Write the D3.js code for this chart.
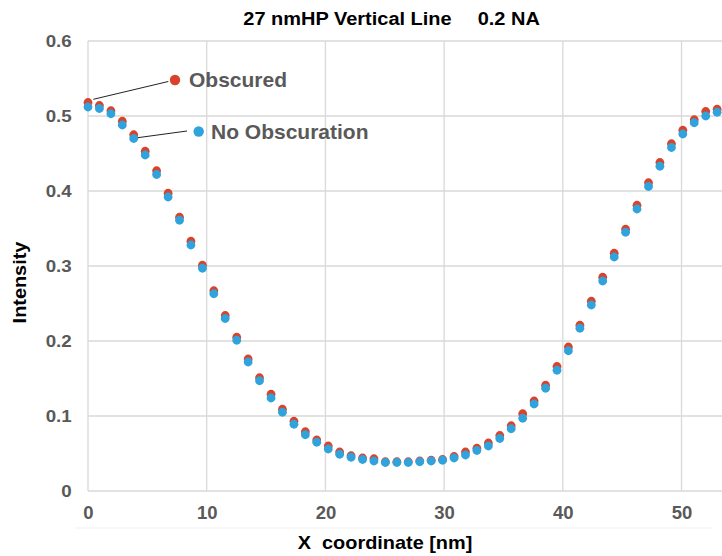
<!DOCTYPE html>
<html>
<head>
<meta charset="utf-8">
<script src="https://cdn.jsdelivr.net/npm/d3@7"></script>
<style>
  body { margin: 0; background: #fff; }
  text { font-family: "Liberation Sans", Arial, sans-serif; font-weight: bold; }
</style>
</head>
<body>
<svg id="chart" width="722" height="556"></svg>
<script>
// X coordinate of each sample [nm]
const xCoords = [0, 0.96, 1.93, 2.89, 3.85, 4.82, 5.78, 6.75, 7.71, 8.67,
  9.64, 10.6, 11.56, 12.53, 13.49, 14.45, 15.42, 16.38, 17.35, 18.31,
  19.27, 20.24, 21.2, 22.16, 23.13, 24.09, 25.05, 26.02, 26.98, 27.95,
  28.91, 29.87, 30.84, 31.8, 32.76, 33.73, 34.69, 35.65, 36.62, 37.58,
  38.55, 39.51, 40.47, 41.44, 42.4, 43.36, 44.33, 45.29, 46.25, 47.22,
  48.18, 49.15, 50.11, 51.07, 52.04, 53.0];

const noObscuration = [0.512, 0.510, 0.503, 0.488, 0.470, 0.448, 0.422, 0.392, 0.361, 0.328,
  0.297, 0.263, 0.230, 0.201, 0.172, 0.147, 0.124, 0.105, 0.089, 0.075,
  0.065, 0.056, 0.049, 0.045, 0.042, 0.040, 0.038, 0.038, 0.038, 0.039,
  0.040, 0.041, 0.044, 0.048, 0.054, 0.060, 0.070, 0.083, 0.097, 0.116,
  0.137, 0.161, 0.187, 0.217, 0.248, 0.280, 0.312, 0.345, 0.376, 0.406,
  0.433, 0.458, 0.476, 0.491, 0.500, 0.505];

const obscured = [0.518, 0.514, 0.507, 0.493, 0.475, 0.453, 0.427, 0.397, 0.365, 0.333,
  0.301, 0.267, 0.234, 0.205, 0.176, 0.151, 0.129, 0.109, 0.093, 0.079,
  0.068, 0.060, 0.052, 0.047, 0.044, 0.043, 0.039, 0.039, 0.039, 0.040,
  0.041, 0.042, 0.046, 0.052, 0.057, 0.064, 0.074, 0.087, 0.103, 0.120,
  0.141, 0.166, 0.192, 0.221, 0.253, 0.285, 0.317, 0.349, 0.381, 0.411,
  0.438, 0.463, 0.481, 0.495, 0.506, 0.509];

const xTicks = [0, 10, 20, 30, 40, 50];
const yTicks = [0, 0.1, 0.2, 0.3, 0.4, 0.5, 0.6];

const RED = "#d8432c";
const BLUE = "#30a3dc";
const GRID = "#d9d9d9";
const LABEL = "#595959";

const svg = d3.select("#chart");

const x = d3.scaleLinear().domain([0, 54]).range([88, 729]);
const y = d3.scaleLinear().domain([0, 0.6]).range([491, 41]);

// gridlines
svg.append("g").selectAll("line").data(yTicks).join("line")
  .attr("x1", 88).attr("x2", 722)
  .attr("y1", d => y(d)).attr("y2", d => y(d))
  .attr("stroke", GRID).attr("stroke-width", 1.3);

svg.append("g").selectAll("line").data(xTicks).join("line")
  .attr("x1", d => x(d)).attr("x2", d => x(d))
  .attr("y1", y(0.6)).attr("y2", y(0))
  .attr("stroke", GRID).attr("stroke-width", 1.3);

// faint line under the tick labels
svg.append("line")
  .attr("x1", 75).attr("x2", 712).attr("y1", 528).attr("y2", 528)
  .attr("stroke", "#f1f1f1").attr("stroke-width", 1);

// axes (labels only)
const xAxis = svg.append("g")
  .attr("transform", `translate(0,${y(0)})`)
  .call(d3.axisBottom(x).tickValues(xTicks).tickSize(0).tickPadding(15).tickFormat(d3.format("d")));
xAxis.select(".domain").remove();
xAxis.selectAll("text")
  .attr("fill", LABEL)
  .style("font-size", "18.5px");

const yAxis = svg.append("g")
  .attr("transform", `translate(${x(0)},0)`)
  .call(d3.axisLeft(y).tickValues(yTicks).tickSize(0).tickFormat(d => d === 0 ? "0" : d3.format(".1f")(d)));
yAxis.select(".domain").remove();
yAxis.selectAll("text")
  .attr("fill", LABEL)
  .style("font-size", "16.3px")
  .attr("x", -16.3 / 1.15)
  .attr("dy", "0.33em")
  .attr("transform", "scale(1.15,1)");

// points: obscured underneath, no obscuration on top
const points = xCoords.map((d, i) => ({ x: d, obs: obscured[i], noObs: noObscuration[i] }));

svg.append("g").selectAll("circle").data(points).join("circle")
  .attr("cx", d => x(d.x)).attr("cy", d => y(d.obs))
  .attr("r", 4.4).attr("fill", RED);

svg.append("g").selectAll("circle").data(points).join("circle")
  .attr("cx", d => x(d.x)).attr("cy", d => y(d.noObs))
  .attr("r", 4.4).attr("fill", BLUE);

// legend annotations with leader lines
const legend = [
  { label: "Obscured", color: RED, dot: [175, 80], from: [93.3, 99.3], to: [168.3, 81.5], tx: 189, ty: 87.3 },
  { label: "No Obscuration", color: BLUE, dot: [198.7, 131.5], from: [137.7, 137.7], to: [187, 131], tx: 211, ty: 138.5 }
];

legend.forEach(l => {
  svg.append("line")
    .attr("x1", l.from[0]).attr("y1", l.from[1])
    .attr("x2", l.to[0]).attr("y2", l.to[1])
    .attr("stroke", "#222").attr("stroke-width", 1);
  svg.append("circle")
    .attr("cx", l.dot[0]).attr("cy", l.dot[1]).attr("r", 5.2)
    .attr("fill", l.color);
  svg.append("text")
    .attr("transform", `translate(${l.tx},${l.ty}) scale(1.05,1)`)
    .attr("fill", LABEL)
    .style("font-size", "20px")
    .text(l.label);
});

// title
svg.append("text")
  .attr("transform", "translate(243.3,24.5) scale(1.08,1)")
  .style("font-size", "18.5px").attr("fill", "#000")
  .text("27 nmHP Vertical Line");
svg.append("text")
  .attr("transform", "translate(477.7,24.5) scale(1.08,1)")
  .style("font-size", "18.5px").attr("fill", "#000")
  .text("0.2 NA");

// axis titles
svg.append("text")
  .attr("transform", "translate(385,549) scale(1.07,1)")
  .attr("text-anchor", "middle")
  .style("font-size", "18.6px").attr("fill", "#000")
  .style("white-space", "pre")
  .text("X  coordinate [nm]");

svg.append("text")
  .attr("transform", "translate(26,282.5) rotate(-90) scale(1.07,1)")
  .attr("text-anchor", "middle")
  .style("font-size", "18.6px").attr("fill", "#000")
  .text("Intensity");
</script>
</body>
</html>
